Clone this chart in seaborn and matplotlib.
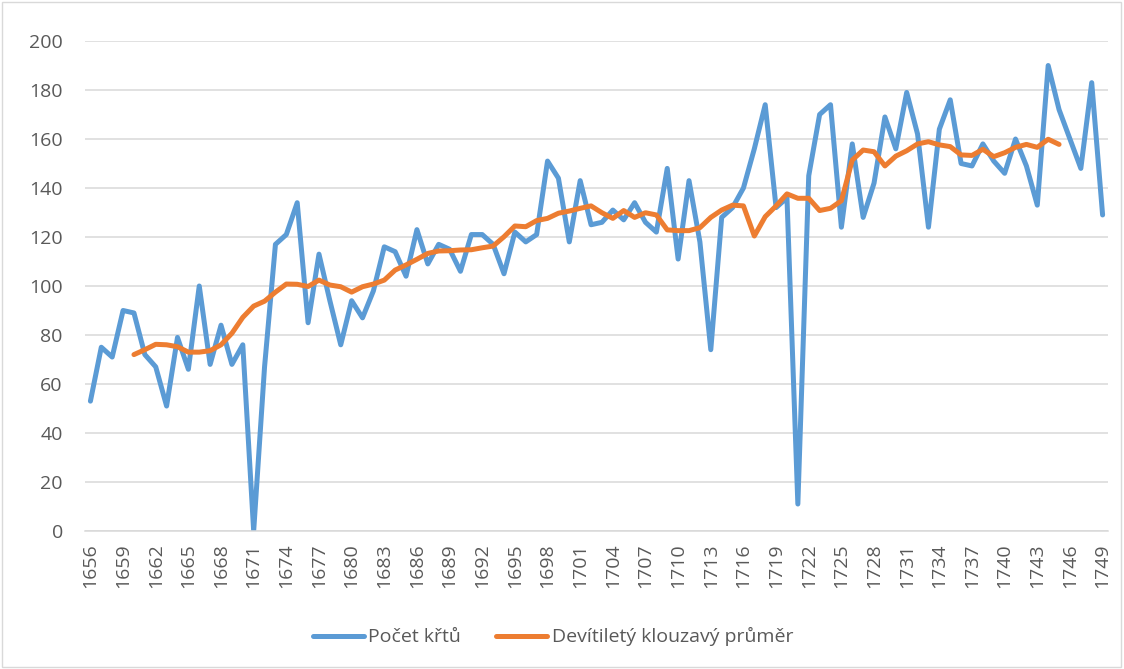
import numpy as np
import pandas as pd
import seaborn as sns
import matplotlib.pyplot as plt
from matplotlib.patches import Rectangle

# Years and values
years = list(range(1656, 1750))

baptisms = [53, 75, 71, 90, 89, 72, 67, 51, 79, 66,
            100, 68, 84, 68, 76, 0, 67, 117, 121, 134,
            85, 113, 94, 76, 94, 87, 98, 116, 114, 104,
            123, 109, 117, 115, 106, 121, 121, 117, 105, 122,
            118, 121, 151, 144, 118, 143, 125, 126, 131, 127,
            134, 126, 122, 148, 111, 143, 118, 74, 128, 132,
            140, 156, 174, 132, 136, 11, 145, 170, 174, 124,
            158, 128, 142, 169, 156, 179, 162, 124, 164, 176,
            150, 149, 158, 151, 146, 160, 149, 133, 190, 172,
            160, 148, 183, 129]

# nine-year moving average, 1660-1745
ma_years = list(range(1660, 1746))
moving_avg = [72, 74, 76.2, 76, 75.2, 73, 73, 73.6, 76, 80.7,
              87.2, 91.8, 93.8, 97.5, 100.8, 100.7, 99.8, 102.4, 100.4, 99.7,
              97.5, 99.7, 100.8, 102.4, 106.5, 108.6, 110.9, 113.3, 114.3, 114.4,
              114.7, 114.8, 115.6, 116.3, 120.1, 124.5, 124.2, 126.7, 127.6, 129.7,
              130.6, 131.7, 132.7, 129.9, 127.6, 130.8, 128, 129.9, 129, 122.9,
              122.6, 122.6, 123.8, 128, 131, 133, 132.7, 120.4, 128.3, 132.7,
              137.6, 135.8, 135.8, 130.8, 131.7, 134.8, 151.4, 155.5, 154.8, 149,
              153, 155.2, 158, 158.9, 157.6, 156.9, 153.5, 153.3, 155.8, 152.8,
              154.4, 156.6, 157.8, 156.6, 159.9, 157.8]

tick_years = years[::3]
y_ticks = list(range(0, 201, 20))

blue_label = "Počet křtů"
orange_label = "Devítiletý klouzavý průměr"

df_raw = pd.DataFrame({"rok": years, "hodnota": baptisms})
df_ma = pd.DataFrame({"rok": ma_years, "hodnota": moving_avg})

sns.set_theme(style="white")
plt.rcParams['font.family'] = ['Open Sans', 'DejaVu Sans']

fig = plt.figure(figsize=(11.24, 6.69), dpi=100)
ax = fig.add_axes([0.0756, 0.2063, 0.9102, 0.7324])

sns.lineplot(data=df_raw, x="rok", y="hodnota", ax=ax, color="#5B9BD5",
             linewidth=3.6, label=blue_label)
sns.lineplot(data=df_ma, x="rok", y="hodnota", ax=ax, color="#ED7D31",
             linewidth=3.6, label=orange_label)

ax.set_xlim(1655.5, 1749.5)
ax.set_ylim(0, 200)
ax.set_xticks(tick_years)
ax.set_xticklabels([str(y) for y in tick_years], rotation=90)
ax.set_yticks(y_ticks)
ax.tick_params(axis="both", labelsize=14, labelcolor="#595959", length=0)
ax.tick_params(axis="y", pad=16)
ax.tick_params(axis="x", pad=9)
ax.set_xlabel("")
ax.set_ylabel("")

ax.grid(axis="y", color="#D9D9D9", linewidth=1.1)
ax.set_axisbelow(True)
for side in ["top", "right", "left"]:
    ax.spines[side].set_visible(False)
ax.spines["bottom"].set_color("#D9D9D9")
ax.spines["bottom"].set_linewidth(1.1)

ax.legend(loc="center", bbox_to_anchor=(0.492, 0.048), bbox_transform=fig.transFigure,
          ncol=2, frameon=False, fontsize=14, handlelength=2.6, columnspacing=1.8,
          handletextpad=0.25, labelcolor="#595959")

fig.patches.append(Rectangle((0.002, 0.003), 0.995, 0.994, transform=fig.transFigure,
                             fill=False, edgecolor="#D9D9D9", linewidth=1))

fig.savefig("out.png", dpi=100)
